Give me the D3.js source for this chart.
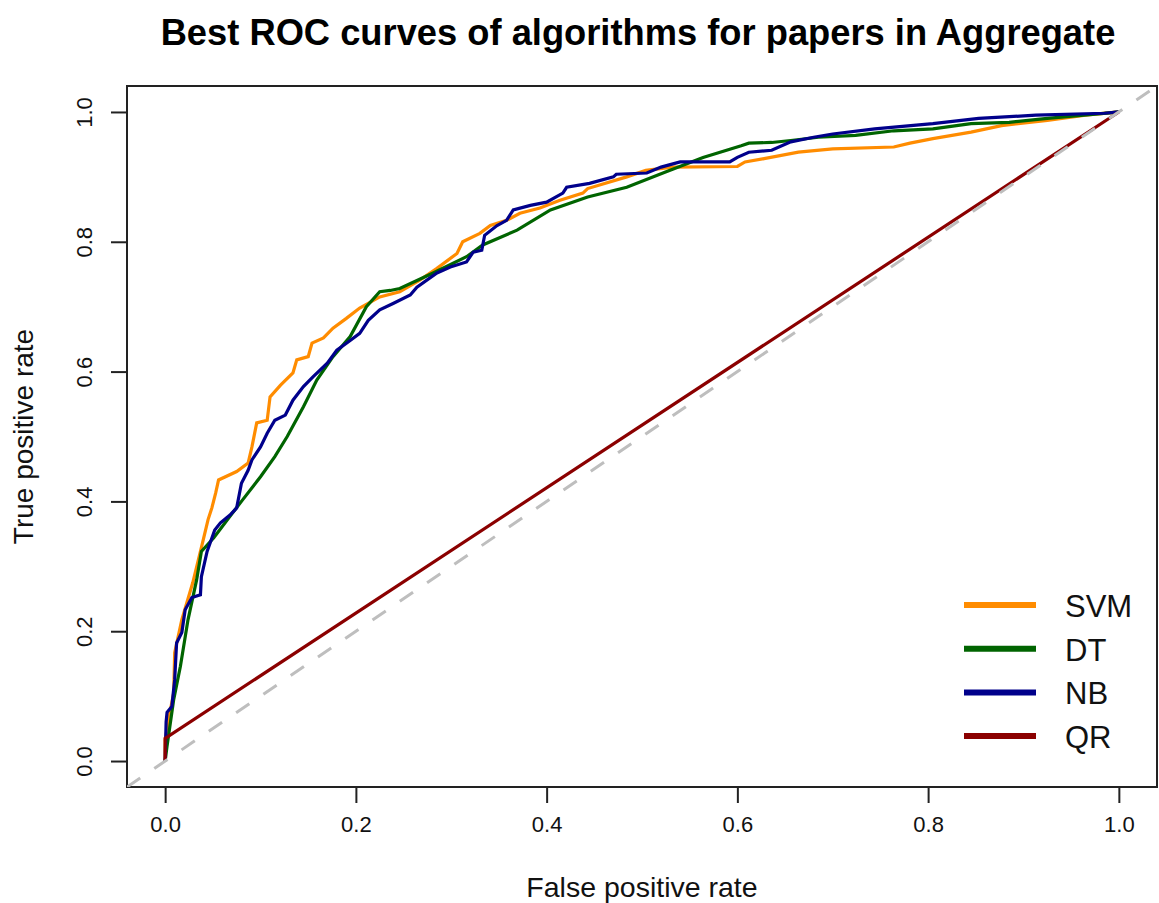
<!DOCTYPE html>
<html>
<head>
<meta charset="utf-8">
<script src="https://cdn.jsdelivr.net/npm/d3@7"></script>
<style>
  body { margin: 0; background: #fff; }
  svg { display: block; font-family: "Liberation Sans", Arial, sans-serif; }
</style>
</head>
<body>
<svg id="chart" width="1159" height="903"></svg>
<script>
// ROC points, [fpr, tpr]
const svm = [[0,0],[0,0.033],[0.005,0.075],[0.009,0.105],[0.010,0.167],[0.0175,0.218],[0.029,0.275],[0.040,0.341],
  [0.045,0.372],[0.049,0.390],[0.053,0.413],[0.056,0.433],[0.075,0.446],[0.087,0.459],[0.091,0.484],[0.096,0.521],
  [0.107,0.525],[0.110,0.561],[0.121,0.579],[0.134,0.598],[0.138,0.618],[0.150,0.623],[0.154,0.644],[0.166,0.652],
  [0.176,0.667],[0.190,0.682],[0.204,0.698],[0.225,0.715],[0.246,0.723],[0.267,0.741],[0.285,0.759],[0.306,0.782],
  [0.312,0.800],[0.330,0.813],[0.341,0.825],[0.358,0.833],[0.372,0.844],[0.393,0.852],[0.414,0.864],[0.438,0.875],
  [0.443,0.882],[0.484,0.900],[0.504,0.910],[0.532,0.915],[0.600,0.916],[0.608,0.923],[0.628,0.928],[0.664,0.938],
  [0.700,0.943],[0.764,0.946],[0.781,0.952],[0.805,0.959],[0.845,0.969],[0.877,0.979],[0.925,0.987],[0.965,0.995],[1,1]];

const dt = [[0,0],[0.002,0.023],[0.009,0.095],[0.016,0.146],[0.024,0.218],[0.033,0.279],[0.038,0.323],[0.051,0.344],
  [0.068,0.377],[0.081,0.402],[0.100,0.438],[0.115,0.469],[0.128,0.500],[0.145,0.546],[0.159,0.587],[0.176,0.623],
  [0.194,0.654],[0.211,0.700],[0.225,0.723],[0.236,0.725],[0.246,0.728],[0.281,0.752],[0.316,0.777],[0.333,0.795],
  [0.369,0.818],[0.404,0.849],[0.443,0.869],[0.484,0.884],[0.524,0.907],[0.564,0.930],[0.604,0.948],[0.612,0.952],
  [0.636,0.953],[0.656,0.956],[0.685,0.961],[0.724,0.964],[0.764,0.971],[0.805,0.974],[0.845,0.982],[0.885,0.984],
  [0.925,0.990],[0.993,0.999],[1,1]];

const nb = [[0,0],[0.001,0.06],[0.002,0.075],[0.007,0.084],[0.010,0.125],[0.012,0.182],[0.0175,0.198],[0.021,0.233],
  [0.028,0.252],[0.037,0.256],[0.038,0.284],[0.044,0.323],[0.052,0.356],[0.058,0.367],[0.068,0.379],[0.075,0.390],
  [0.080,0.428],[0.087,0.448],[0.091,0.464],[0.100,0.484],[0.107,0.505],[0.115,0.525],[0.126,0.533],[0.134,0.556],
  [0.145,0.577],[0.155,0.592],[0.170,0.613],[0.180,0.633],[0.194,0.648],[0.204,0.659],[0.213,0.679],[0.225,0.695],
  [0.239,0.705],[0.257,0.718],[0.264,0.730],[0.285,0.752],[0.299,0.761],[0.316,0.769],[0.323,0.784],[0.332,0.787],
  [0.335,0.810],[0.348,0.825],[0.358,0.833],[0.365,0.849],[0.383,0.856],[0.400,0.861],[0.417,0.875],[0.421,0.884],
  [0.445,0.890],[0.470,0.900],[0.473,0.904],[0.505,0.906],[0.520,0.915],[0.540,0.923],[0.592,0.923],[0.600,0.930],
  [0.612,0.938],[0.636,0.941],[0.656,0.954],[0.680,0.961],[0.700,0.966],[0.744,0.974],[0.805,0.982],[0.853,0.990],
  [0.913,0.995],[0.985,0.998],[1,1]];

const qr = [[0,0],[0,0.035],[1,1]];

const seriesNames = ["SVM", "DT", "NB", "QR"];
const seriesColors = ["#FF8C00", "#006400", "#00008B", "#8B0000"];
const seriesData = [svm, dt, nb, qr];
const tickValues = [0, 0.2, 0.4, 0.6, 0.8, 1.0];

const svg = d3.select("#chart");
const plotLeft = 127, plotRight = 1157, plotTop = 86, plotBottom = 787;

const x = d3.scaleLinear().domain([-0.04, 1.04]).range([plotLeft, plotRight]);
const y = d3.scaleLinear().domain([-0.04, 1.04]).range([plotBottom, plotTop]);

svg.append("defs").append("clipPath").attr("id", "plotclip")
  .append("rect").attr("x", plotLeft).attr("y", plotTop)
  .attr("width", plotRight - plotLeft).attr("height", plotBottom - plotTop);

// title
svg.append("text")
  .attr("x", (plotLeft + plotRight) / 2 - 4).attr("y", 45)
  .attr("text-anchor", "middle")
  .attr("font-weight", "bold").attr("font-size", 36.3)
  .text("Best ROC curves of algorithms for papers in Aggregate");

// axes
const xAxis = d3.axisBottom(x).tickValues(tickValues).tickSize(16).tickPadding(13).tickFormat(d3.format(".1f"));
const yAxis = d3.axisLeft(y).tickValues(tickValues).tickSize(16).tickFormat(d3.format(".1f"));

const gx = svg.append("g").attr("transform", `translate(0,${plotBottom})`).call(xAxis);
gx.select(".domain").remove();
gx.selectAll("line").attr("stroke", "#222").attr("stroke-width", 2);
gx.selectAll("text").attr("font-size", 22).attr("fill", "#111").attr("font-family", "Liberation Sans, Arial, sans-serif");

const gy = svg.append("g").attr("transform", `translate(${plotLeft},0)`).call(yAxis);
gy.select(".domain").remove();
gy.selectAll("line").attr("stroke", "#222").attr("stroke-width", 2);
gy.selectAll("text")
  .attr("font-size", 22).attr("fill", "#111").attr("font-family", "Liberation Sans, Arial, sans-serif")
  .attr("text-anchor", "middle").attr("dy", null).attr("x", null)
  .attr("transform", "translate(-35,0) rotate(-90)");

// box
svg.append("rect")
  .attr("x", plotLeft).attr("y", plotTop)
  .attr("width", plotRight - plotLeft).attr("height", plotBottom - plotTop)
  .attr("fill", "none").attr("stroke", "#222").attr("stroke-width", 2);

// axis labels
svg.append("text")
  .attr("x", x(0.5)).attr("y", 897)
  .attr("text-anchor", "middle").attr("font-size", 28.5).attr("fill", "#111")
  .text("False positive rate");
svg.append("text")
  .attr("transform", `translate(33,${y(0.5)}) rotate(-90)`)
  .attr("text-anchor", "middle").attr("font-size", 28).attr("fill", "#111")
  .text("True positive rate");

const line = d3.line().x(d => x(d[0])).y(d => y(d[1]));

const plot = svg.append("g").attr("clip-path", "url(#plotclip)");
seriesData.forEach(function(data, i) {
  plot.append("path")
    .datum(data)
    .attr("d", line)
    .attr("fill", "none")
    .attr("stroke", seriesColors[i])
    .attr("stroke-width", 3.2)
    .attr("stroke-linejoin", "miter");
});

// chance line, abline(0,1) style
plot.append("path")
  .datum([[-0.04, -0.04], [1.04, 1.04]])
  .attr("d", line)
  .attr("fill", "none")
  .attr("stroke", "#BEBEBE")
  .attr("stroke-width", 3)
  .attr("stroke-dasharray", "16,17");

// legend
const legend = svg.append("g");
seriesNames.forEach(function(name, i) {
  const ly = 605 + i * 43.7;
  legend.append("line")
    .attr("x1", 964).attr("x2", 1036).attr("y1", ly).attr("y2", ly)
    .attr("stroke", seriesColors[i]).attr("stroke-width", 6);
  legend.append("text")
    .attr("x", 1065).attr("y", ly + 12)
    .attr("font-size", 31).attr("fill", "#111")
    .text(name);
});
</script>
</body>
</html>
